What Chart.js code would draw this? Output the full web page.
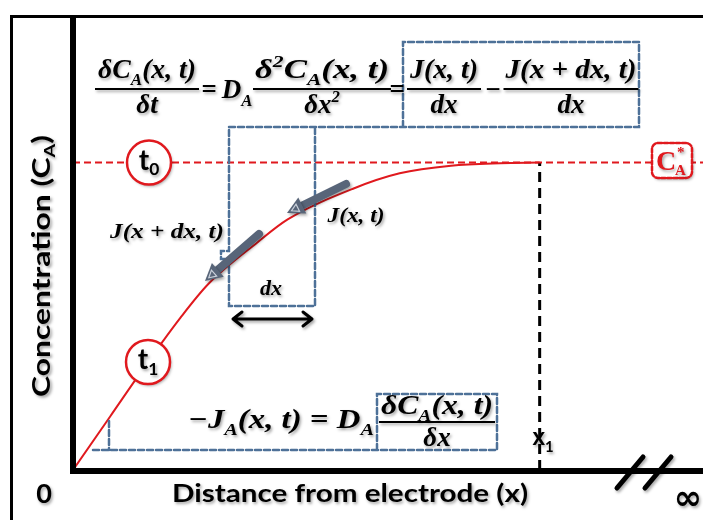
<!DOCTYPE html>
<html>
<head>
<meta charset="utf-8">
<script src="https://cdn.jsdelivr.net/npm/chart.js@4.4.0/dist/chart.umd.min.js"></script>
<style>
  html, body { margin: 0; padding: 0; background: #fff; }
  #wrap { width: 703px; height: 520px; }
</style>
</head>
<body>
<div id="wrap"><canvas id="diffChart" width="703" height="520"></canvas></div>
<script>
// concentration profile at t1 (x1 = 100, bulk C* = 100)
const distance = [0, 8, 16, 23, 29, 39.5, 46, 60, 70, 81, 91.5, 100];
const concentration = [0, 17.5, 35, 49.5, 60.5, 74, 81.5, 91.5, 96.5, 99, 99.8, 100];
// bulk concentration line (t0)
const bulkX = [0, 135];
const bulkC = [100, 100];
// x1 marker
const x1 = 100;

const RED = '#e0191e';
const BLUE = 'rgb(78,113,152)';
const GRAY = '#586579';
const SERIF = '"Liberation Serif", "DejaVu Serif", serif';
const SANS = 'Lato, "Open Sans", "Liberation Sans", sans-serif';

// tiny math-text helper: _{sub} and ^{sup}
function parse(s) {
    const out = [];
    let i = 0;
    while (i < s.length) {
        if ((s[i] == '_' || s[i] == '^') && s[i + 1] == '{') {
            const j = s.indexOf('}', i);
            out.push({ t: s.slice(i + 2, j), k: s[i] == '_' ? 1 : 2 });
            i = j + 1;
        } else {
            let j = i;
            while (j < s.length && !((s[j] == '_' || s[j] == '^') && s[j + 1] == '{')) j++;
            out.push({ t: s.slice(i, j), k: 0 });
            i = j;
        }
    }
    return out;
}

function runsWidth(ctx, runs, size, style, family) {
    let w = 0;
    runs.forEach(function (r) {
        ctx.font = style + ' ' + (r.k ? size * 0.62 : size) + 'px ' + family;
        w += ctx.measureText(r.t).width;
    });
    return w;
}

// draws math-ish text; o.width stretches it horizontally to that width
function mtext(ctx, s, x, y, o) {
    const style = o.style || 'bold italic';
    const family = o.family || SERIF;
    const size = o.size || 24;
    const runs = parse(s);
    const w0 = runsWidth(ctx, runs, size, style, family);
    const k = o.width ? o.width / w0 : 1;
    const w = w0 * k;
    const left = o.align == 'left' ? x : (o.align == 'right' ? x - w : x - w / 2);
    ctx.save();
    ctx.translate(left, y);
    ctx.scale(k, 1);
    ctx.fillStyle = o.color || '#000';
    ctx.textAlign = 'left';
    ctx.textBaseline = 'alphabetic';
    let cx = 0;
    runs.forEach(function (r) {
        const fs = r.k ? size * 0.62 : size;
        ctx.font = style + ' ' + fs + 'px ' + family;
        const dy = r.k == 1 ? size * (o.subDy || 0.25) : (r.k == 2 ? -size * 0.4 : 0);
        ctx.fillText(r.t, cx, dy);
        cx += ctx.measureText(r.t).width;
    });
    ctx.restore();
    return w;
}

function shadowOn(ctx) {
    ctx.shadowColor = 'rgba(0,0,0,0.35)';
    ctx.shadowBlur = 3;
    ctx.shadowOffsetX = 1.5;
    ctx.shadowOffsetY = 2;
}
function shadowOff(ctx) {
    ctx.shadowColor = 'transparent';
    ctx.shadowBlur = 0;
    ctx.shadowOffsetX = 0;
    ctx.shadowOffsetY = 0;
}

function frac(ctx, num, den, cx, numY, denY, barY, numW, barW, size) {
    mtext(ctx, num, cx, numY, { size: size, width: numW });
    mtext(ctx, den, cx, denY, { size: size });
    ctx.fillStyle = '#000';
    ctx.fillRect(cx - barW / 2, barY - 1, barW, 2);
}

function dashedPath(ctx, pts, color, dash, lw) {
    ctx.save();
    ctx.strokeStyle = color;
    ctx.lineWidth = lw;
    ctx.setLineDash(dash);
    ctx.beginPath();
    ctx.moveTo(pts[0][0], pts[0][1]);
    for (let i = 1; i < pts.length; i++) ctx.lineTo(pts[i][0], pts[i][1]);
    ctx.stroke();
    ctx.restore();
}

function grayArrow(ctx, x0, y0, x1, y1) {
    const dx = x1 - x0, dy = y1 - y0, L = Math.hypot(dx, dy);
    const ux = dx / L, uy = dy / L, nx = -uy, ny = ux;
    const hl = 17, hw = 9;
    ctx.save();
    shadowOn(ctx);
    ctx.strokeStyle = GRAY;
    ctx.lineWidth = 8;
    ctx.lineCap = 'round';
    ctx.beginPath();
    ctx.moveTo(x0, y0);
    ctx.lineTo(x1 - ux * hl, y1 - uy * hl);
    ctx.stroke();
    ctx.fillStyle = GRAY;
    ctx.beginPath();
    ctx.moveTo(x1, y1);
    ctx.lineTo(x1 - ux * hl + nx * hw, y1 - uy * hl + ny * hw);
    ctx.lineTo(x1 - ux * hl - nx * hw, y1 - uy * hl - ny * hw);
    ctx.closePath();
    ctx.fill();
    shadowOff(ctx);
    // hollow look inside the head
    ctx.strokeStyle = '#c9d0da';
    ctx.lineWidth = 1.2;
    const bx = x1 - ux * 5, by = y1 - uy * 5;
    ctx.beginPath();
    ctx.moveTo(bx, by);
    ctx.lineTo(x1 - ux * 12 + nx * 4, y1 - uy * 12 + ny * 4);
    ctx.lineTo(x1 - ux * 12 - nx * 4, y1 - uy * 12 - ny * 4);
    ctx.closePath();
    ctx.stroke();
    ctx.restore();
}

const decorPlugin = {
    id: 'decor',
    beforeDraw: function (chart) {
        const ctx = chart.ctx;
        ctx.save();
        ctx.fillStyle = '#fff';
        ctx.fillRect(0, 0, chart.width, chart.height);
        // outer frame
        ctx.strokeStyle = '#000';
        ctx.lineWidth = 3;
        ctx.beginPath();
        ctx.moveTo(11.5, chart.height + 5);
        ctx.lineTo(11.5, 16.5);
        ctx.lineTo(chart.width + 5, 16.5);
        ctx.stroke();
        ctx.restore();
    },
    afterDatasetsDraw: function (chart) {
        const ctx = chart.ctx;
        const sx = chart.scales.x, sy = chart.scales.y;
        const x0 = sx.getPixelForValue(0), y0 = sy.getPixelForValue(0);
        const yC = sy.getPixelForValue(100);
        ctx.save();

        // axes
        ctx.fillStyle = '#000';
        ctx.fillRect(x0 - 3, 15, 6, y0 + 3 - 15);
        ctx.fillRect(x0 - 3, y0 - 2, chart.width - x0 + 3, 6);
        ctx.lineCap = 'round';
        ctx.lineWidth = 5;
        ctx.strokeStyle = '#000';
        shadowOn(ctx);
        ctx.beginPath();
        ctx.moveTo(617, 488); ctx.lineTo(643, 457);
        ctx.moveTo(645, 488); ctx.lineTo(671, 457);
        ctx.stroke();

        // blue dashed boxes
        shadowOff(ctx);
        const dsh = [6, 3];
        dashedPath(ctx, [[403, 127], [403, 42], [639, 42], [639, 127], [229, 127], [229, 251], [221, 251], [221, 259], [229, 259], [229, 306], [315, 306], [315, 127]], BLUE, dsh, 2.5);
        dashedPath(ctx, [[377, 450], [377, 394], [497, 394], [497, 450], [90, 450]], BLUE, dsh, 2.5);
        dashedPath(ctx, [[109, 421], [109, 450]], BLUE, dsh, 2.5);

        // gray flux arrows
        grayArrow(ctx, 346, 184, 287, 213);
        grayArrow(ctx, 259, 234, 205, 281);

        // double arrow dx
        ctx.strokeStyle = '#000';
        ctx.lineWidth = 3;
        ctx.lineCap = 'round';
        ctx.lineJoin = 'round';
        shadowOn(ctx);
        ctx.beginPath();
        ctx.moveTo(233, 319); ctx.lineTo(312, 319);
        ctx.moveTo(242, 312); ctx.lineTo(233, 319); ctx.lineTo(242, 326);
        ctx.moveTo(303, 312); ctx.lineTo(312, 319); ctx.lineTo(303, 326);
        ctx.stroke();

        // t0 / t1 circles
        [[149, yC, '0'], [148, 362, '1']].forEach(function (c) {
            shadowOn(ctx);
            ctx.fillStyle = '#fff';
            ctx.strokeStyle = RED;
            ctx.lineWidth = 2.5;
            ctx.beginPath();
            ctx.arc(c[0], c[1], 22, 0, Math.PI * 2);
            ctx.fill();
            shadowOff(ctx);
            ctx.stroke();
            shadowOn(ctx);
            mtext(ctx, 't_{' + c[2] + '}', c[0], c[1] + 7, { size: 28, style: 'bold', family: SANS, subDy: 0.2 });
        });

        // C_A* label box
        shadowOn(ctx);
        ctx.fillStyle = '#fff';
        ctx.strokeStyle = RED;
        ctx.lineWidth = 2.5;
        ctx.setLineDash([4, 2]);
        ctx.beginPath();
        ctx.roundRect(652, 143, 40, 35, 6);
        ctx.fill();
        shadowOff(ctx);
        ctx.stroke();
        ctx.setLineDash([]);
        shadowOn(ctx);
        ctx.fillStyle = RED;
        ctx.font = 'bold 28px ' + SERIF;
        ctx.textAlign = 'left';
        ctx.fillText('C', 656, 170);
        ctx.font = 'bold 15px ' + SERIF;
        ctx.fillText('*', 677, 157);
        ctx.fillText('A', 675, 175);

        // x1 label
        mtext(ctx, 'x_{1}', 543, 445, { size: 24, style: 'bold', family: SANS, subDy: 0.28 });

        // top equation
        const S = 27;
        frac(ctx, 'δC_{A}(x, t)', 'δt', 147, 78, 113, 89, 98, 104, S);
        mtext(ctx, '=', 209, 98, { size: S });
        mtext(ctx, 'D_{A}', 237, 98, { size: S, subDy: 0.3 });
        frac(ctx, 'δ^{2}C_{A}(x, t)', 'δx^{2}', 322, 78, 113, 89, 134, 138, S);
        mtext(ctx, '=', 397, 98, { size: S });
        frac(ctx, 'J(x, t)', 'dx', 444, 78, 113, 89, 68, 74, S);
        mtext(ctx, '−', 493, 98, { size: S });
        frac(ctx, 'J(x + dx, t)', 'dx', 571, 78, 113, 89, 131, 135, S);

        // flux labels
        mtext(ctx, 'J(x, t)', 356, 222, { size: 22, width: 57 });
        mtext(ctx, 'J(x + dx, t)', 167, 238, { size: 22, width: 114 });
        mtext(ctx, 'dx', 271, 295, { size: 22 });

        // Fick's first law
        mtext(ctx, '−J_{A}(x, t) = D_{A}', 281, 428, { size: S, width: 186 });
        frac(ctx, 'δC_{A}(x, t)', 'δx', 437, 414, 446, 422, 112, 116, S);

        // axis labels
        mtext(ctx, 'Distance from electrode (x)', 350, 502, { size: 24, style: 'bold', family: SANS, width: 356 });
        mtext(ctx, '0', 44, 503, { size: 27, style: 'bold', family: SANS });
        mtext(ctx, '∞', 688, 509, { size: 34, style: 'bold', family: '"DejaVu Sans", sans-serif' });
        ctx.save();
        ctx.translate(50, 266);
        ctx.rotate(-Math.PI / 2);
        mtext(ctx, 'Concentration (C_{A})', 0, 0, { size: 24, style: 'bold', family: SANS, width: 262, subDy: 0.2 });
        ctx.restore();

        shadowOff(ctx);
        ctx.restore();
    }
};

const ctx = document.getElementById('diffChart').getContext('2d');
const diffChart = new Chart(ctx, {
    type: 'line',
    data: {
        datasets: [{
            label: 'C* (t0)',
            data: bulkX.map(function (x, i) { return { x: x, y: bulkC[i] }; }),
            borderColor: RED,
            borderWidth: 2,
            borderDash: [7, 4],
            pointRadius: 0
        }, {
            label: 'x1',
            data: [{ x: x1, y: 0 }, { x: x1, y: 100 }],
            borderColor: '#000',
            borderWidth: 3,
            borderDash: [10, 6],
            pointRadius: 0
        }, {
            label: 'C(x, t1)',
            data: distance.map(function (x, i) { return { x: x, y: concentration[i] }; }),
            borderColor: RED,
            borderWidth: 2,
            cubicInterpolationMode: 'monotone',
            pointRadius: 0
        }]
    },
    options: {
        responsive: false,
        animation: false,
        layout: { padding: { left: 73, top: 15, right: 0, bottom: 50 } },
        plugins: { legend: { display: false }, tooltip: { enabled: false } },
        scales: {
            x: { type: 'linear', min: 0, max: 135, display: false },
            y: { min: 0, max: 148, display: false }
        }
    },
    plugins: [decorPlugin]
});
</script>
</body>
</html>
